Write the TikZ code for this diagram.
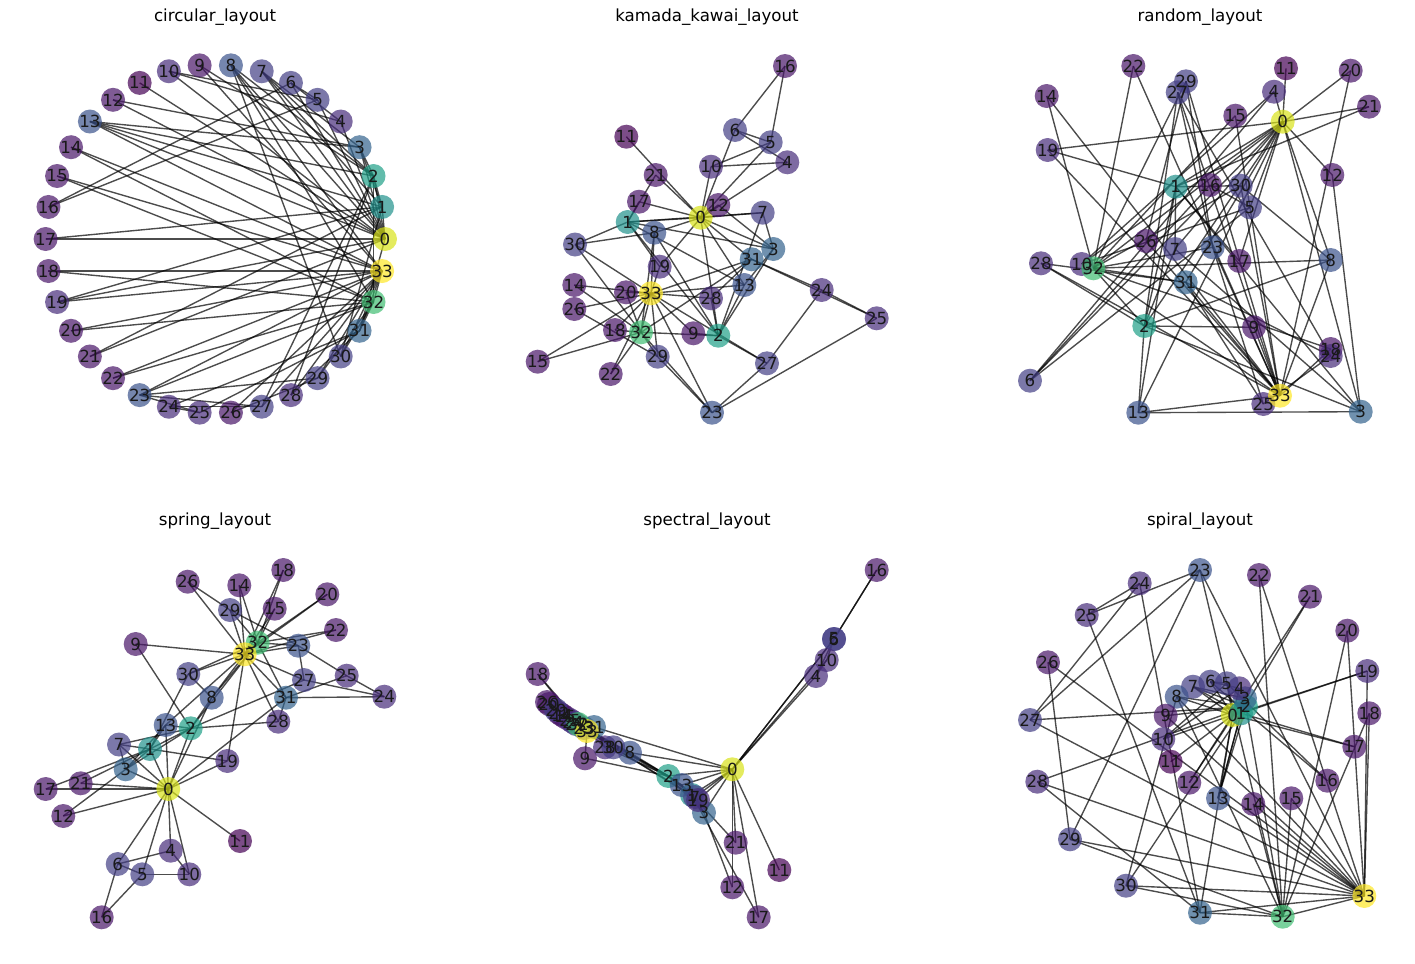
\documentclass[tikz,border=0pt]{standalone}
\usepackage{fontspec}
\setmainfont{DejaVu Sans}
\usepackage{tikz}
\definecolor{ViridisA}{HTML}{440154}
\definecolor{ViridisB}{HTML}{481668}
\definecolor{ViridisC}{HTML}{472C7A}
\definecolor{ViridisD}{HTML}{433E85}
\definecolor{ViridisE}{HTML}{3B528B}
\definecolor{ViridisF}{HTML}{33638D}
\definecolor{ViridisI}{HTML}{21918C}
\definecolor{ViridisJ}{HTML}{1FA088}
\definecolor{ViridisL}{HTML}{40BD72}
\definecolor{ViridisP}{HTML}{D8E219}
\definecolor{ViridisQ}{HTML}{FDE725}
\colorlet{Karate0}{ViridisP}\colorlet{Karate1}{ViridisI}\colorlet{Karate2}{ViridisJ}
\colorlet{Karate3}{ViridisF}\colorlet{Karate4}{ViridisC}\colorlet{Karate5}{ViridisD}
\colorlet{Karate6}{ViridisD}\colorlet{Karate7}{ViridisD}\colorlet{Karate8}{ViridisE}
\colorlet{Karate9}{ViridisB}\colorlet{Karate10}{ViridisC}\colorlet{Karate11}{ViridisA}
\colorlet{Karate12}{ViridisB}\colorlet{Karate13}{ViridisE}\colorlet{Karate14}{ViridisB}
\colorlet{Karate15}{ViridisB}\colorlet{Karate16}{ViridisB}\colorlet{Karate17}{ViridisB}
\colorlet{Karate18}{ViridisB}\colorlet{Karate19}{ViridisC}\colorlet{Karate20}{ViridisB}
\colorlet{Karate21}{ViridisB}\colorlet{Karate22}{ViridisB}\colorlet{Karate23}{ViridisE}
\colorlet{Karate24}{ViridisC}\colorlet{Karate25}{ViridisC}\colorlet{Karate26}{ViridisB}
\colorlet{Karate27}{ViridisD}\colorlet{Karate28}{ViridisC}\colorlet{Karate29}{ViridisD}
\colorlet{Karate30}{ViridisD}\colorlet{Karate31}{ViridisF}\colorlet{Karate32}{ViridisL}
\colorlet{Karate33}{ViridisQ}
\pgfdeclarelayer{under}
\pgfsetlayers{under,main}
\newcommand{\karateedges}{0/1,0/2,0/3,0/4,0/5,0/6,0/7,0/8,0/10,0/11,0/12,0/13,0/17,0/19,0/21,0/31,
  1/2,1/3,1/7,1/13,1/17,1/19,1/21,1/30,2/3,2/7,2/8,2/9,2/13,2/27,2/28,2/32,3/7,3/12,3/13,
  4/6,4/10,5/6,5/10,5/16,6/16,8/30,8/32,8/33,9/33,13/33,14/32,14/33,15/32,15/33,18/32,18/33,
  19/33,20/32,20/33,22/32,22/33,23/25,23/27,23/29,23/32,23/33,24/25,24/27,24/31,25/31,26/29,
  26/33,27/33,28/31,28/33,29/32,29/33,30/32,30/33,31/32,31/33,32/33}
\newcommand{\karatevertices}[2]{%
  \foreach \i/\x/\y in {#2}
    \node[vertex,fill=Karate\i] (#1\i) at (\x,\y) {};}
\newcommand{\karatefinish}[1]{%
  \foreach \i in {0,...,33}
    \node[tag] (#1l\i) at (#1\i) {\i};
  \begin{pgfonlayer}{under}
    \foreach \a/\b in \karateedges
      \draw[link] (#1\a.center) -- (#1\b.center);
  \end{pgfonlayer}}

\begin{document}
\begin{tikzpicture}[x=0.5pt,y=-0.5pt,
    vertex/.style={circle,inner sep=0pt,minimum size=12pt,fill opacity=0.7},
    tag/.style={inner sep=0pt,font=\fontsize{8.33}{10}\selectfont,text=black!90},
    link/.style={draw=black,draw opacity=0.7,line width=0.69pt},
    heading/.style={inner sep=0pt,font=\fontsize{8.33}{10}\selectfont}]
  \useasboundingbox (0,0) rectangle (1415,964);

  \node[heading] (tcirc) at (215,17) {circular\_layout};
  \node[heading] (tkk) at (707,17) {kamada\_kawai\_layout};
  \node[heading] (trand) at (1200,17) {random\_layout};
  \node[heading] (tspr) at (215,521) {spring\_layout};
  \node[heading] (tspec) at (707,521) {spectral\_layout};
  \node[heading] (tspir) at (1200,521) {spiral\_layout};

  \foreach \i in {0,...,33}
    \node[vertex,fill=Karate\i] (circ\i) at ({215.3+169.7*cos(360*\i/34)},{239-174.4*sin(360*\i/34)}) {};
  \karatefinish{circ}

  \karatevertices{kk}{0/700.7/217.7, 1/627.7/222, 2/718.3/335.7, 3/773.3/249, 4/787.3/162.3,
    5/770.7/142.3, 6/735/130, 7/762.7/212.7, 8/654.3/232.7, 9/693.3/333.3, 10/711/166.7,
    11/626.3/136.7, 12/718.3/205, 13/744.3/285, 14/574.3/285, 15/537.7/361.7, 16/785/66,
    17/639/201.7, 18/615/330, 19/659.7/266.7, 20/626/292.3, 21/655.7/175, 22/610.7/374,
    23/712/412.7, 24/821.7/290, 25/876.7/318.3, 26/574.3/309, 27/767/363.3, 28/711/298.3,
    29/657.7/356.7, 30/575/244.5, 31/751.7/259.3, 32/641/332.3, 33/651/293.3}
  \karatefinish{kk}

  \karatevertices{rand}{0/1282.7/121.7, 1/1175.7/186.7, 2/1144.3/326, 3/1360.7/411.7,
    4/1274/91.7, 5/1250/207.3, 6/1030/380.7, 7/1175/249, 8/1330.7/260, 9/1254/327.3,
    10/1081.7/264, 11/1286/68.3, 12/1332.3/175, 13/1138.3/412.7, 14/1046.7/96,
    15/1235.3/115.7, 16/1210/185, 17/1239.3/261, 18/1330.7/349, 19/1047.7/150,
    20/1350.7/70.7, 21/1369/106.7, 22/1133.3/66, 23/1212.7/247.3, 24/1330.7/356,
    25/1263.3/404, 26/1146/241, 27/1177.7/92.3, 28/1041/263.3, 29/1186/81.3,
    30/1240.7/185.7, 31/1185.7/282.3, 32/1093.3/268.3, 33/1280/395.7}
  \karatefinish{rand}

  \karatevertices{spr}{0/168.3/789, 1/150/749, 2/190.7/728.3, 3/125.7/769.3, 4/170.7/850.7,
    5/142.3/874.3, 6/117.7/864, 7/119/744.5, 8/211.7/697.7, 9/135.7/644, 10/189.3/874.3,
    11/240/841, 12/63.3/816, 13/165.7/725, 14/239.3/585.3, 15/274.7/608.7, 16/101.7/917.3,
    17/45.7/789, 18/283.3/570, 19/227.3/761, 20/327.3/594.3, 21/80.7/783.3, 22/336/630,
    23/298.3/645.7, 24/384.3/696.7, 25/346.7/675.7, 26/187.7/581.7, 27/304/680,
    28/278.3/721.7, 29/230/610, 30/188.3/674, 31/286/697.7, 32/257.7/642.7, 33/244.7/654.3}
  \karatefinish{spr}

  \karatevertices{spec}{0/732.3/769.3, 1/692/795, 2/668.3/776, 3/704/812.7, 4/816/676,
    5/834/639, 6/834/639, 7/695/797, 8/630/752.7, 9/585/758.3, 10/826.7/660, 11/779.3/870,
    12/732.3/887.3, 13/681.7/785, 14/562/715, 15/565/717, 16/876.7/570, 17/758.7/917.3,
    18/537.7/674, 19/698/800, 20/549/704, 21/735.7/842.7, 22/559/713, 23/584/728,
    24/573/722, 25/570/720, 26/547/702, 27/576/724, 28/605/747.3, 29/556/710,
    30/613.3/747.3, 31/594/727, 32/578/724, 33/587/731}
  \karatefinish{spec}

  \karatevertices{spir}{0/1232.7/715, 1/1241/713.3, 2/1246/706.7, 3/1245/698.3,
    4/1239.3/688.3, 5/1226.7/683.3, 6/1210.3/681.7, 7/1193/686.7, 8/1176.7/696.7,
    9/1165.7/715.7, 10/1163.3/739, 11/1170.7/761.7, 12/1189.3/782.7, 13/1218/798.3,
    14/1253.3/804, 15/1291.3/798.3, 16/1327.3/780.7, 17/1354.3/746.7, 18/1369.3/713.3,
    19/1367.3/671, 20/1347.3/630.7, 21/1310/596.7, 22/1259/575, 23/1200/570,
    24/1139.7/583.3, 25/1086.7/615, 26/1048/662.3, 27/1030/720, 28/1037.3/781.7,
    29/1070/839.3, 30/1126/885.7, 31/1200/912.7, 32/1282.7/916.7, 33/1364.3/896}
  \karatefinish{spir}
\end{tikzpicture}
\end{document}
